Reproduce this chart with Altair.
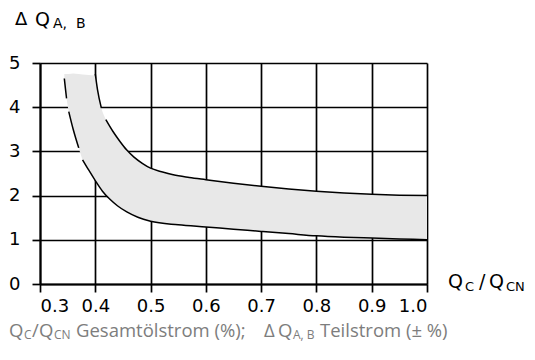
import altair as alt
import pandas as pd

# ---- data ----
lower_x = [0.344, 0.346, 0.348,
           0.352, 0.360, 0.370,
           0.377, 0.388, 0.400, 0.413, 0.427, 0.440, 0.457, 0.477, 0.500, 0.550,
           0.600, 0.650, 0.700, 0.750, 0.800, 0.850, 0.900, 0.950, 1.000]
lower_y = [4.65, 4.42, 4.20,
           3.90, 3.50, 3.08,
           2.81, 2.58, 2.34, 2.10, 1.91, 1.77, 1.63, 1.51, 1.42, 1.34,
           1.29, 1.24, 1.19, 1.14, 1.09, 1.06, 1.04, 1.02, 1.00]
lower_seg = ["a", "a", "a", "b", "b", "b"] + ["c"] * 19

upper_x = [0.400, 0.404, 0.411,
           0.419, 0.432, 0.445, 0.457, 0.470, 0.485, 0.500, 0.520, 0.541, 0.570,
           0.600, 0.650, 0.700, 0.750, 0.800, 0.850, 0.900, 0.950, 1.000]
upper_y = [4.75, 4.40, 3.98,
           3.72, 3.45, 3.22, 3.03, 2.87, 2.73, 2.62, 2.54, 2.47, 2.41,
           2.36, 2.28, 2.21, 2.15, 2.10, 2.06, 2.03, 2.01, 2.00]
upper_seg = ["a", "a", "a"] + ["b"] * 19

band_x = [0.344, 0.348, 0.352, 0.360, 0.370, 0.377, 0.388, 0.400, 0.404, 0.411,
          0.419, 0.432, 0.445, 0.457, 0.470, 0.485, 0.500, 0.520, 0.541, 0.570,
          0.600, 0.650, 0.700, 0.750, 0.800, 0.850, 0.900, 0.950, 1.000]
band_lo = [4.65, 4.20, 3.90, 3.50, 3.08, 2.81, 2.58, 2.34, 2.28, 2.15,
           2.03, 1.86, 1.74, 1.63, 1.55, 1.48, 1.42, 1.38, 1.35, 1.31,
           1.29, 1.24, 1.19, 1.14, 1.09, 1.06, 1.04, 1.02, 1.00]
band_hi = [4.75, 4.75, 4.75, 4.76, 4.75, 4.74, 4.73, 4.72, 4.40, 3.98,
           3.72, 3.45, 3.22, 3.03, 2.87, 2.73, 2.62, 2.54, 2.47, 2.41,
           2.36, 2.28, 2.21, 2.15, 2.10, 2.06, 2.03, 2.01, 2.00]

x_ticks = [0.3, 0.4, 0.5, 0.6, 0.7, 0.8, 0.9, 1.0]
y_ticks = [0, 1, 2, 3, 4, 5]

lower = pd.DataFrame({"x": lower_x, "y": lower_y, "seg": lower_seg})
upper = pd.DataFrame({"x": upper_x, "y": upper_y, "seg": upper_seg})
band = pd.DataFrame({"x": band_x, "lo": band_lo, "hi": band_hi})

AX_FONT = "DejaVu Sans"
CAP_FONT = "Open Sans"
CAP_COL = "#7d7d7d"
NB = "\u00a0"

xscale = alt.Scale(domain=[0.3, 1.0], nice=False, zero=False)
yscale = alt.Scale(domain=[0, 5], nice=False)

common_axis = dict(
    grid=True, gridColor="black", gridWidth=1.7, gridOpacity=1,
    domainColor="black", domainWidth=2, tickColor="black", tickWidth=1.7,
    tickSize=8, labelFont=AX_FONT, labelFontSize=18, labelColor="black",
    title=None,
)

area = alt.Chart(band).mark_area(color="#e8e8e8", opacity=1, interpolate="monotone").encode(
    x=alt.X("x:Q", scale=xscale,
            axis=alt.Axis(values=x_ticks, format=".1f", labelPadding=5, **common_axis)),
    y=alt.Y("lo:Q", scale=yscale,
            axis=alt.Axis(values=y_ticks, format="d", labelPadding=12, **common_axis)),
    y2="hi:Q",
)

lo_line = alt.Chart(lower).mark_line(color="black", strokeWidth=1.5, interpolate="monotone").encode(
    x="x:Q", y="y:Q", detail="seg:N")
up_line = alt.Chart(upper).mark_line(color="black", strokeWidth=1.5, interpolate="monotone").encode(
    x="x:Q", y="y:Q", detail="seg:N")


def txt(s, x, y, size, font=AX_FONT, color="black"):
    return alt.Chart(pd.DataFrame({"t": [s]})).mark_text(
        align="left", baseline="alphabetic", font=font, fontSize=size, color=color
    ).encode(x=alt.value(x), y=alt.value(y), text="t:N")


CY = 274   # caption baseline
SY = 276   # caption subscript baseline

texts = [
    # y-axis title
    txt("Δ", -25, -38, 18),
    txt("Q", -5, -37, 19),
    txt("A," + NB + NB + "B", 13, -35, 14),
    # x-axis title at right
    txt("Q", 408, 225, 19),
    txt("C", 425, 228, 13),
    txt("/", 439, 225, 19),
    txt("Q", 449, 225, 19),
    txt("CN", 466, 228, 13),
    # caption
    txt("Q", -31, CY, 18.5, CAP_FONT, CAP_COL),
    txt("C", -16, SY, 12, CAP_FONT, CAP_COL),
    txt("/", -8, CY, 18.5, CAP_FONT, CAP_COL),
    txt("Q", -1, CY, 18.5, CAP_FONT, CAP_COL),
    txt("CN", 14, SY, 12, CAP_FONT, CAP_COL),
    txt("Gesamtölstrom (%);", 36, CY, 18.5, CAP_FONT, CAP_COL),
    txt("Δ", 224, CY, 18.5, CAP_FONT, CAP_COL),
    txt("Q", 238, CY, 18.5, CAP_FONT, CAP_COL),
    txt("A," + NB + "B", 253, SY, 12, CAP_FONT, CAP_COL),
    txt("Teilstrom (± %)", 280, CY, 18.5, CAP_FONT, CAP_COL),
]

chart = alt.layer(area, lo_line, up_line, *texts).properties(
    width=387, height=221,
    padding={"left": 32, "top": 55, "right": 100, "bottom": 68},
    autosize=alt.AutoSizeParams(type="none"),
).configure_view(stroke=None)

chart.save("out.html", embed_options={"renderer": "svg", "actions": False})
